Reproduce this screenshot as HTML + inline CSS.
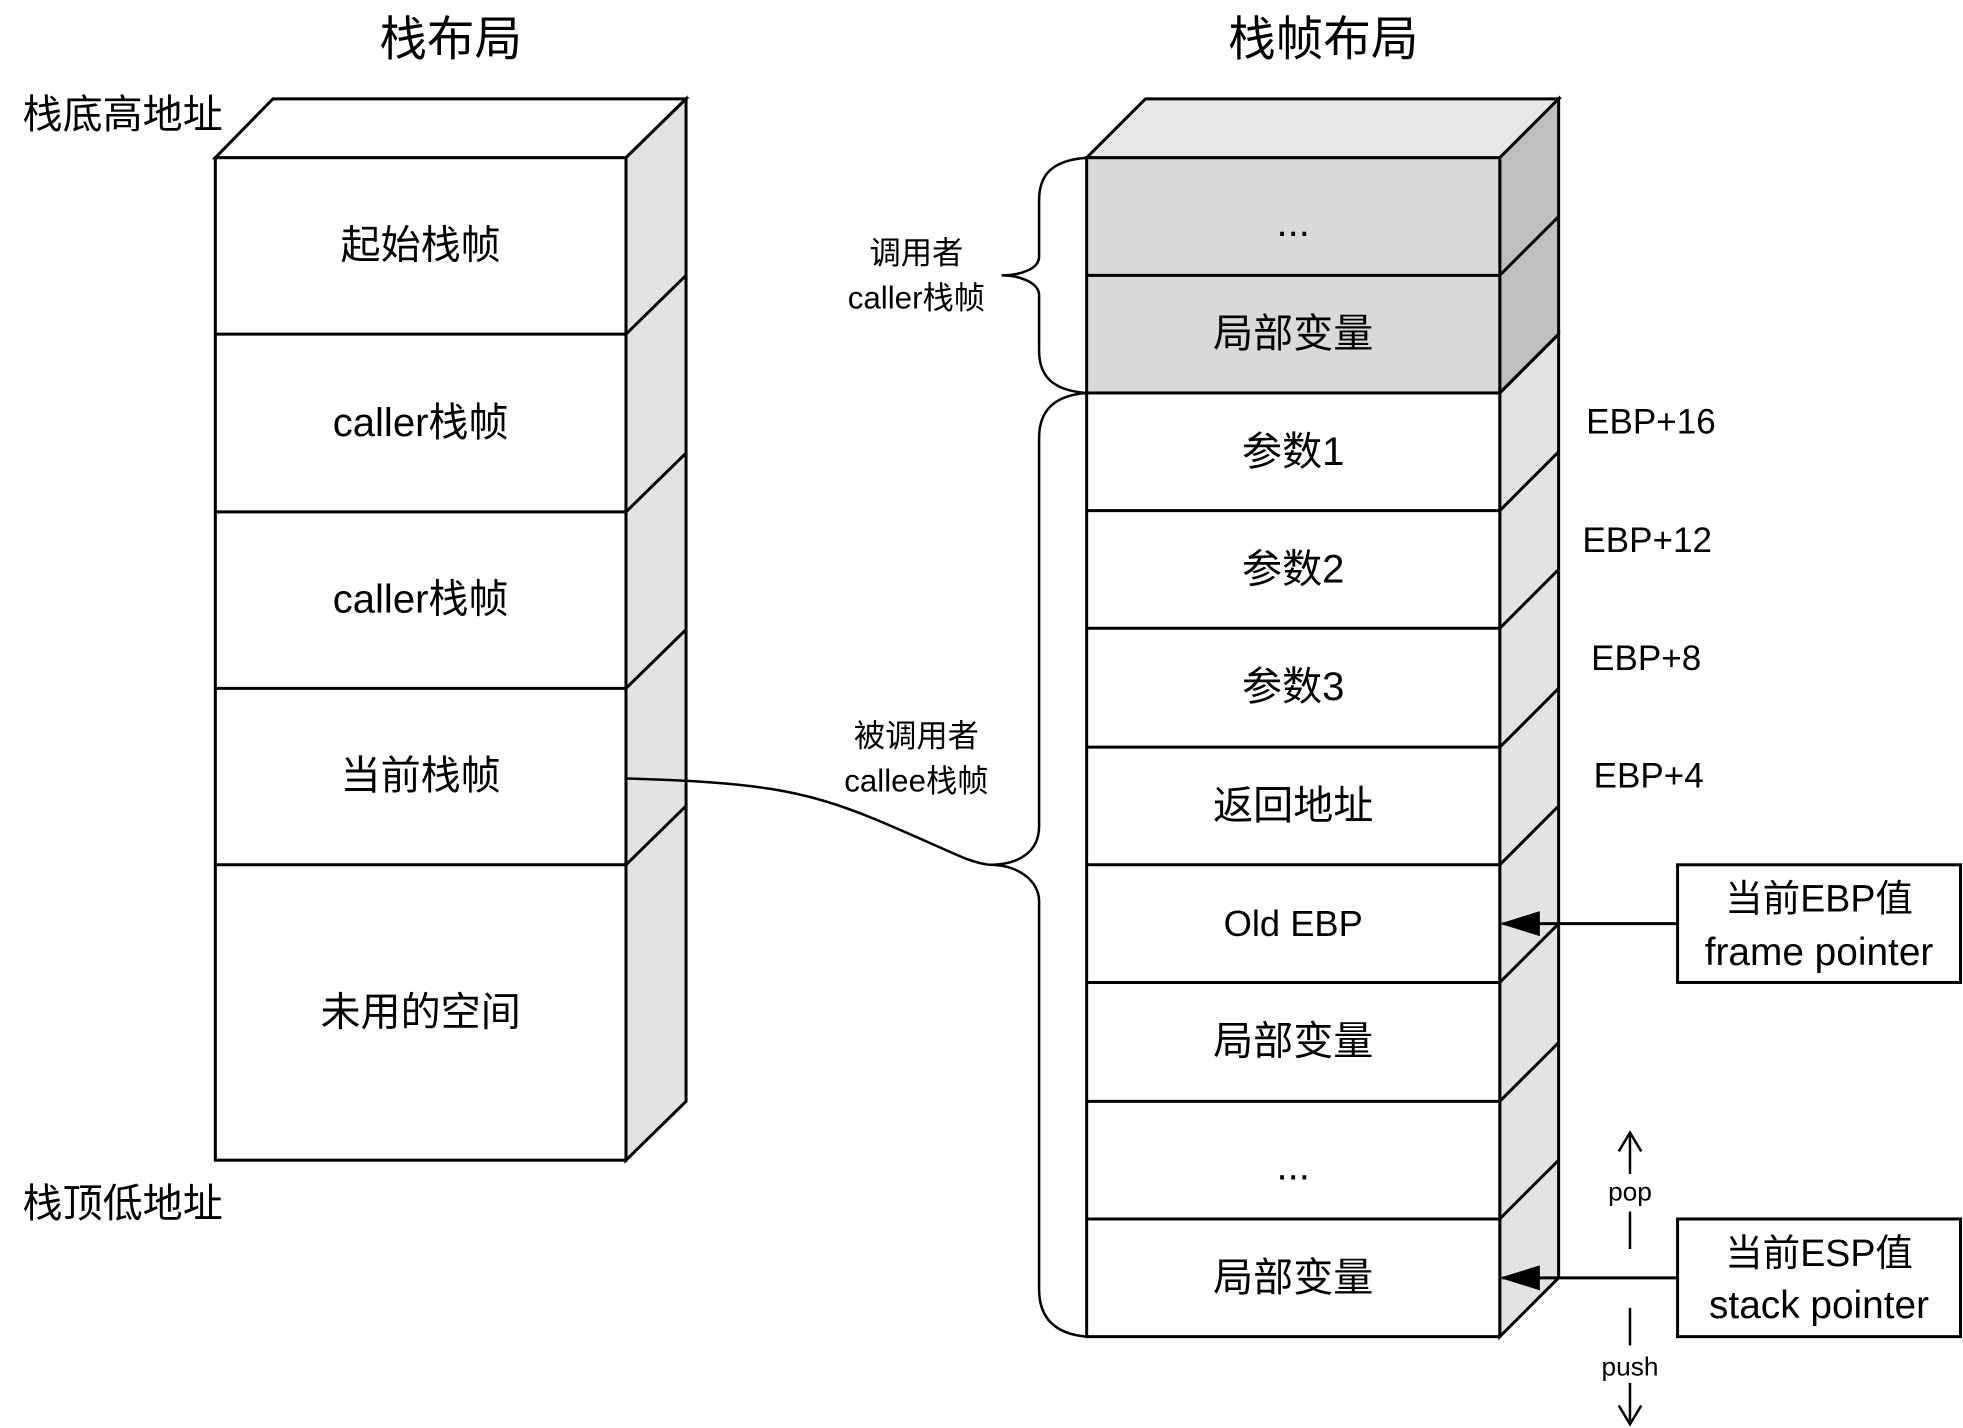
<!DOCTYPE html>
<html><head><meta charset="utf-8"><style>
html,body{margin:0;padding:0;background:#fff;}
svg{display:block;}
text{font-family:"Liberation Sans","Noto Sans CJK SC",sans-serif;fill:#000;}
</style></head><body>
<svg width="1963" height="1428" viewBox="0 0 1568 1141" preserveAspectRatio="none" xmlns="http://www.w3.org/2000/svg">
<defs><marker id="ah" markerWidth="32" markerHeight="20" refX="30" refY="10" orient="auto" markerUnits="userSpaceOnUse" viewBox="0 0 32 20"><path d="M0,0 L32,10 L0,20 z" fill="#000"/></marker></defs>
<g stroke="#000" stroke-width="2.4" stroke-linejoin="miter">
<polygon points="172,126 218,79 548,79 500,126" fill="#fff"/>
<polygon points="500,126 548,79 548,880 500,927" fill="#e3e3e3"/>
<rect x="172" y="126" width="328" height="801" fill="#fff"/>
<line x1="172" y1="267" x2="500" y2="267"/><line x1="500" y1="267" x2="548" y2="220"/>
<line x1="172" y1="409" x2="500" y2="409"/><line x1="500" y1="409" x2="548" y2="362"/>
<line x1="172" y1="550" x2="500" y2="550"/><line x1="500" y1="550" x2="548" y2="503"/>
<line x1="172" y1="691" x2="500" y2="691"/><line x1="500" y1="691" x2="548" y2="644"/>
<polygon points="868,126 915,79 1245,79 1198,126" fill="#e8e8e8"/>
<polygon points="1198,126 1245,79 1245,267 1198,314" fill="#bfbfbf"/>
<polygon points="1198,314 1245,267 1245,1021 1198,1068" fill="#e3e3e3"/>
<rect x="868" y="126" width="330" height="188" fill="#d9d9d9"/>
<rect x="868" y="314" width="330" height="754" fill="#fff"/>
<line x1="868" y1="220" x2="1198" y2="220"/><line x1="1198" y1="220" x2="1245" y2="173"/>
<line x1="1198" y1="314" x2="1245" y2="267"/>
<line x1="868" y1="408" x2="1198" y2="408"/><line x1="1198" y1="408" x2="1245" y2="361"/>
<line x1="868" y1="502" x2="1198" y2="502"/><line x1="1198" y1="502" x2="1245" y2="455"/>
<line x1="868" y1="597" x2="1198" y2="597"/><line x1="1198" y1="597" x2="1245" y2="550"/>
<line x1="868" y1="691" x2="1198" y2="691"/><line x1="1198" y1="691" x2="1245" y2="644"/>
<line x1="868" y1="785" x2="1198" y2="785"/><line x1="1198" y1="785" x2="1245" y2="738"/>
<line x1="868" y1="880" x2="1198" y2="880"/><line x1="1198" y1="880" x2="1245" y2="833"/>
<line x1="868" y1="974" x2="1198" y2="974"/><line x1="1198" y1="974" x2="1245" y2="927"/>
<rect x="1340" y="691" width="226" height="94" fill="#fff"/>
<rect x="1340" y="974" width="226" height="94" fill="#fff"/>
</g>
<g stroke="#000" stroke-width="2" fill="none">
<path d="M868,126 C840,128 830,140 830,160 L830,205 C830,215 815,220 800,220 C815,220 830,226 830,236 L830,280 C830,300 840,312 868,314"/>
<path d="M868,314 C840,316 830,330 830,350 L830,660 C830,680 815,691 790,691 C815,691 830,705 830,720 L830,1030 C830,1055 845,1066 868,1068"/>
<path d="M500,622 C600,625 640,630 700,655 S770,688 790,691"/>
<line x1="1340" y1="738" x2="1200" y2="738" stroke-width="2.4" marker-end="url(#ah)"/>
<line x1="1340" y1="1021" x2="1200" y2="1021" stroke-width="2.4" marker-end="url(#ah)"/>
<line x1="1302" y1="905" x2="1302" y2="938"/><polyline points="1293,920 1302,905 1311,920"/>
<line x1="1302" y1="968" x2="1302" y2="998"/>
<line x1="1302" y1="1045" x2="1302" y2="1075"/>
<line x1="1302" y1="1105" x2="1302" y2="1138"/><polyline points="1293,1123 1302,1138 1311,1123"/>
</g>
<g text-anchor="middle" font-size="32" dominant-baseline="central">
<text x="360" y="32" font-size="38">栈布局</text>
<text x="1057" y="32" font-size="38">栈帧布局</text>
<text x="336" y="196">起始栈帧</text>
<text x="336" y="338">caller栈帧</text>
<text x="336" y="479">caller栈帧</text>
<text x="336" y="620">当前栈帧</text>
<text x="336" y="809">未用的空间</text>
<text x="1033" y="178">...</text>
<text x="1033" y="267">局部变量</text>
<text x="1033" y="361">参数1</text>
<text x="1033" y="455">参数2</text>
<text x="1033" y="549">参数3</text>
<text x="1033" y="644">返回地址</text>
<text x="1033" y="738" font-size="29">Old EBP</text>
<text x="1033" y="832">局部变量</text>
<text x="1033" y="932">...</text>
<text x="1033" y="1021">局部变量</text>
<text x="1453" y="718" font-size="30">当前EBP值</text>
<text x="1453" y="761" font-size="31">frame pointer</text>
<text x="1453" y="1001" font-size="30">当前ESP值</text>
<text x="1453" y="1043" font-size="31">stack pointer</text>
<text x="1302" y="952" font-size="21">pop</text>
<text x="1302" y="1092" font-size="21">push</text>
<text x="732" y="202" font-size="25">调用者</text>
<text x="732" y="238" font-size="25">caller栈帧</text>
<text x="732" y="588" font-size="25">被调用者</text>
<text x="732" y="624" font-size="25">callee栈帧</text>
</g>
<g font-size="28" dominant-baseline="central">
<text x="18" y="92" font-size="32">栈底高地址</text>
<text x="18" y="962" font-size="32">栈顶低地址</text>
<text x="1267" y="337">EBP+16</text>
<text x="1264" y="432">EBP+12</text>
<text x="1271" y="526">EBP+8</text>
<text x="1273" y="620">EBP+4</text>
</g>
</svg>
</body></html>
